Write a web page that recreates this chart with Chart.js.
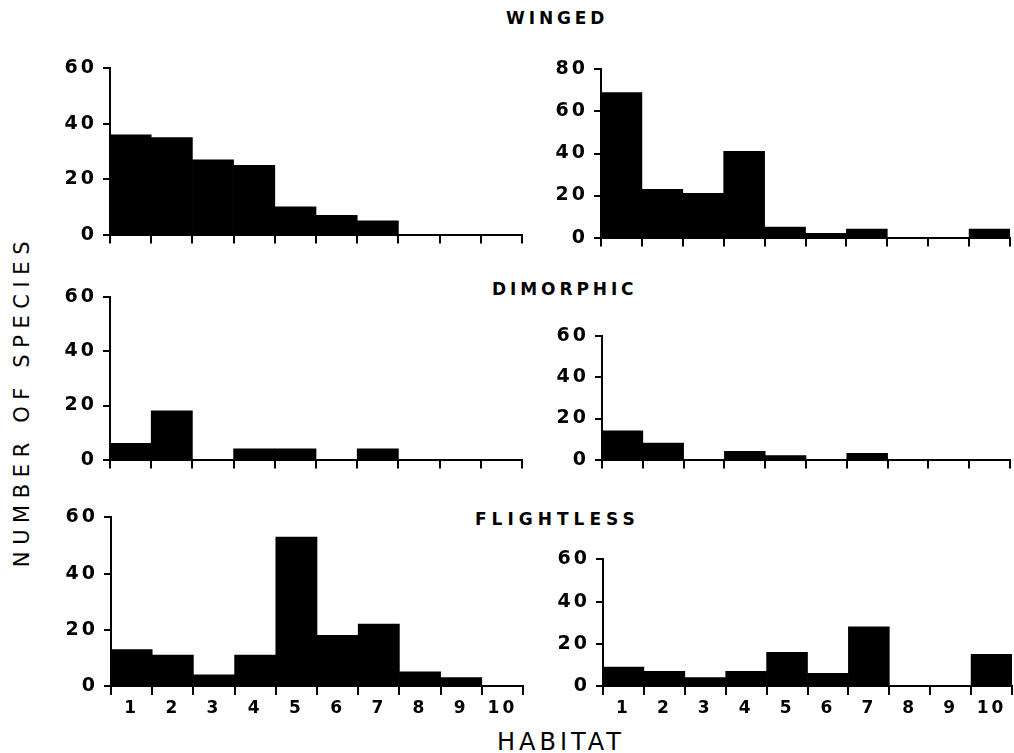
<!DOCTYPE html>
<html><head><meta charset="utf-8">
<script src="https://cdn.jsdelivr.net/npm/chart.js@4.4.0/dist/chart.umd.min.js"></script>
<style>
html,body{margin:0;padding:0;background:#fff;overflow:hidden;width:1014px;height:753px;}
canvas{position:absolute;}
.t{position:absolute;font-family:'DejaVu Sans';color:#000;white-space:nowrap;line-height:1;}
.b{font-weight:bold;font-size:17px;}
</style></head><body>
<div class="t b" style="left:506px;top:10px;letter-spacing:3.9px;">WINGED</div>
<div class="t b" style="left:492px;top:281px;letter-spacing:3.9px;">DIMORPHIC</div>
<div class="t b" style="left:475px;top:511px;letter-spacing:5px;">FLIGHTLESS</div>
<div class="t" style="left:497px;top:730px;font-size:24px;letter-spacing:4px;">HABITAT</div>
<div class="t" style="left:22px;top:401px;width:400px;text-align:center;font-size:21px;letter-spacing:6.6px;transform:translate(-50%,-50%) rotate(-90deg);transform-origin:50% 50%;">NUMBER OF SPECIES</div>
<script>
const habitats = ['1','2','3','4','5','6','7','8','9','10'];

const wingedLeft      = [36, 35, 27, 25, 10, 7, 5, 0, 0, 0];
const wingedRight     = [69, 23, 21, 41, 5, 2, 4, 0, 0, 4];
const dimorphicLeft   = [6, 18, 0, 4, 4, 0, 4, 0, 0, 0];
const dimorphicRight  = [14, 8, 0, 4, 2, 0, 3, 0, 0, 0];
const flightlessLeft  = [13, 11, 4, 11, 53, 18, 22, 5, 3, 0];
const flightlessRight = [9, 7, 4, 7, 16, 6, 28, 0, 0, 15];

const ticks60 = [0, 20, 40, 60];
const ticks80 = [0, 20, 40, 60, 80];

const spacingPlugin = {
  id: 'spacing',
  beforeLayout(chart){ chart.ctx.letterSpacing = '3px'; },
  beforeDraw(chart){ chart.ctx.letterSpacing = '3px'; }
};

const panels = [
  {data: wingedLeft,      ticks: ticks60, box: [110, 522, 65, 238],  labels: false},
  {data: wingedRight,     ticks: ticks80, box: [601, 1010, 66, 241], labels: false},
  {data: dimorphicLeft,   ticks: ticks60, box: [110, 522, 294, 463], labels: false},
  {data: dimorphicRight,  ticks: ticks60, box: [602, 1010, 333, 463], labels: false},
  {data: flightlessLeft,  ticks: ticks60, box: [111, 523, 514, 686], labels: true},
  {data: flightlessRight, ticks: ticks60, box: [603, 1012, 556, 686], labels: true}
];

function makePanel(p){
  const YW = 70, PT = 14, PR = 2, XH = p.labels ? 34 : 14;
  const [l, r, t, b] = p.box;
  const cv = document.createElement('canvas');
  cv.width = (r - l) + YW + PR;
  cv.height = (b - t) + PT + XH;
  cv.style.width = cv.width + 'px';
  cv.style.height = cv.height + 'px';
  cv.style.left = (l - YW) + 'px';
  cv.style.top = (t - PT) + 'px';
  document.body.appendChild(cv);
  new Chart(cv, {
    type: 'bar',
    data: {
      labels: habitats,
      datasets: [{data: p.data, backgroundColor: '#000', borderWidth: 0, barPercentage: 1, categoryPercentage: 1}]
    },
    options: {
      responsive: false, animation: false, devicePixelRatio: 1,
      layout: {padding: {top: PT, right: PR, left: 0, bottom: 0}},
      plugins: {legend: {display: false}, tooltip: {enabled: false}},
      scales: {
        x: {
          grid: {display: true, drawOnChartArea: false, drawTicks: true, tickLength: 9, color: '#000', lineWidth: 2, offset: true},
          border: {display: true, color: '#000', width: 2},
          ticks: {display: p.labels, color: '#000', font: {family: 'DejaVu Sans', weight: 'bold', size: 17}, padding: 3, maxRotation: 0, autoSkip: false},
          afterFit(s){ s.height = XH; }
        },
        y: {
          min: 0, max: p.ticks[p.ticks.length - 1],
          afterBuildTicks(s){ s.ticks = p.ticks.map(v => ({value: v})); },
          grid: {drawOnChartArea: false, tickLength: 7, color: '#000', lineWidth: 2},
          border: {display: true, color: '#000', width: 2},
          ticks: {color: '#000', font: {family: 'DejaVu Sans', weight: 'bold', size: 19}, padding: 6},
          afterFit(s){ s.width = YW; }
        }
      }
    },
    plugins: [spacingPlugin]
  });
}
panels.forEach(makePanel);
</script>
</body></html>
